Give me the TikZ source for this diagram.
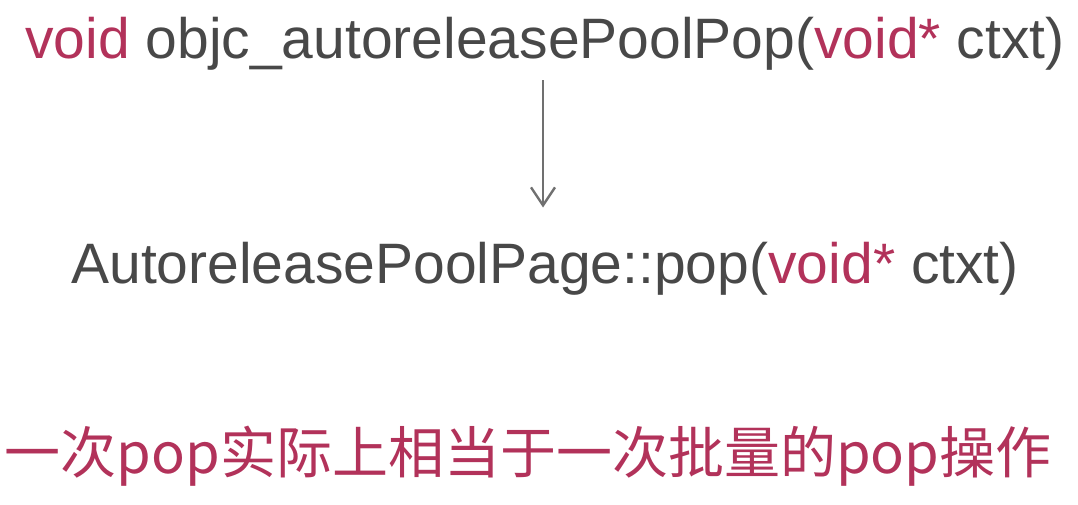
\documentclass[tikz,border=0pt]{standalone}
\usepackage{fontspec}
\setmainfont{Liberation Sans}
\newfontfamily\cjk{Noto Sans CJK SC}
\usetikzlibrary{arrows.meta}
\definecolor{kwred}{RGB}{178,50,90}
\definecolor{txtgray}{RGB}{72,72,72}
\definecolor{arrgray}{RGB}{112,112,112}
\tikzset{fn/.style={inner sep=0pt, anchor=base, text=txtgray, font=\fontsize{57}{60}\selectfont},
         arr/.style={draw=arrgray, line width=2pt, -{Straight Barb[length=18pt, width=24pt, line width=2.4pt]}}}
\newcommand{\kw}[1]{\textcolor{kwred}{#1}}
\begin{document}
\begin{tikzpicture}[x=1pt, y=-1pt]
    \useasboundingbox (0,0) rectangle (1078,504);
    \node[fn] (pop) at (545,58) {\kw{void} objc\_autoreleasePoolPop(\kw{void*} ctxt)};
    \node[fn] (page) at (545,283) {AutoreleasePoolPage::pop(\kw{void*} ctxt)};
    \node[fn, text=kwred, font=\cjk\fontsize{56}{60}\selectfont] (note) at (528,473) {一次pop实际上相当于一次批量的pop操作};
    \draw[arr, shorten <=10pt, shorten >=34pt] (pop.south -| 543,0) -- (page.north -| 543,0);
\end{tikzpicture}
\end{document}
